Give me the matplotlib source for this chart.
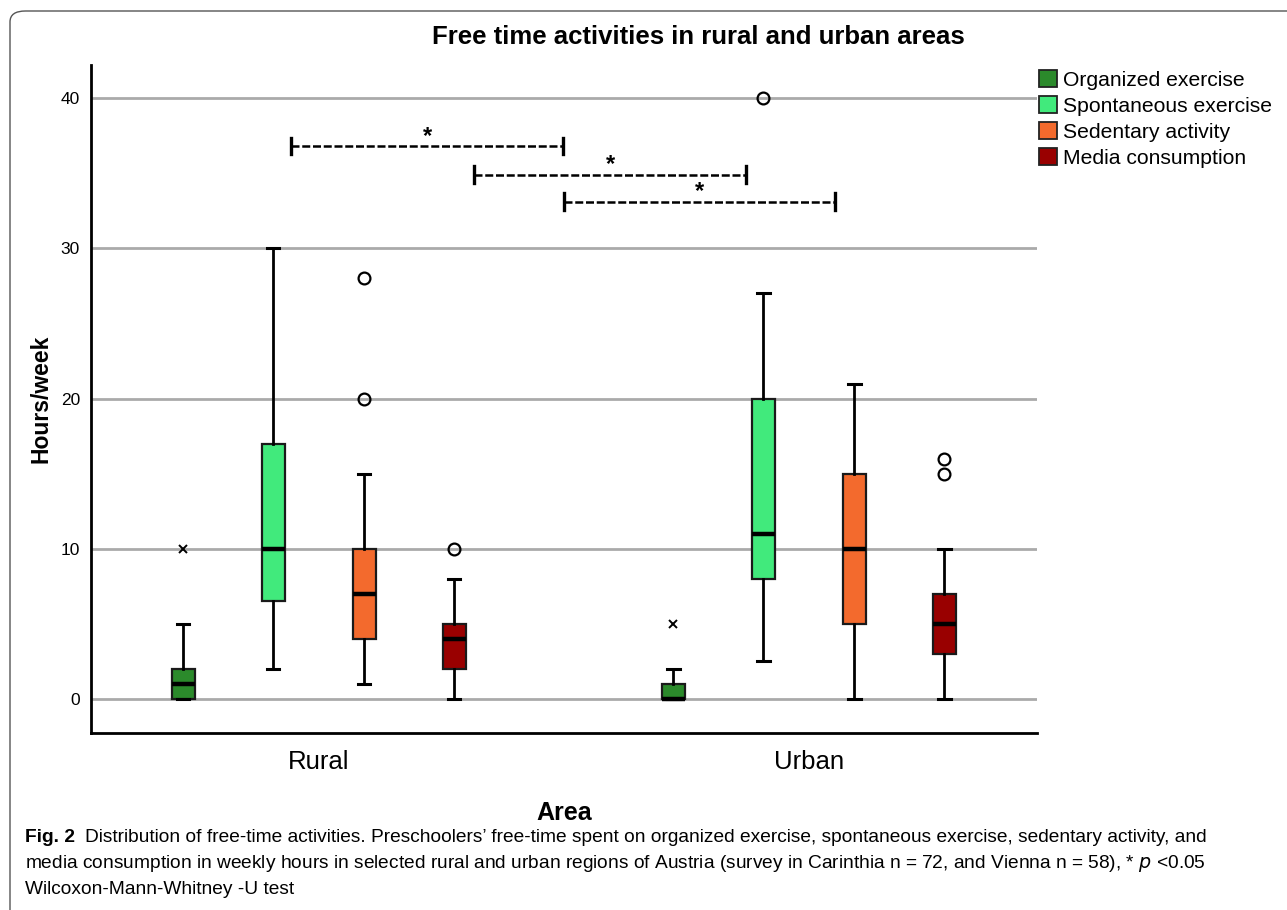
import matplotlib
matplotlib.use("Agg")
from matplotlib import pyplot as plt
from matplotlib.patches import Patch, FancyBboxPatch

# categories and series
areas = ["Rural", "Urban"]
activities = ["Organized exercise", "Spontaneous exercise", "Sedentary activity", "Media consumption"]
colors = ["#2b8a2b", "#41ea7c", "#f36a2d", "#990000"]

# box statistics per area, in the order of activities (hours/week)
rural_whislo = [0, 2, 1, 0]
rural_q1 = [0, 6.5, 4, 2]
rural_med = [1, 10, 7, 4]
rural_q3 = [2, 17, 10, 5]
rural_whishi = [5, 30, 15, 8]
rural_outliers = [[], [], [20, 28], [10]]
rural_extremes = [[10], [], [], []]

urban_whislo = [0, 2.5, 0, 0]
urban_q1 = [0, 8, 5, 3]
urban_med = [0, 11, 10, 5]
urban_q3 = [1, 20, 15, 7]
urban_whishi = [2, 27, 21, 10]
urban_outliers = [[], [40], [], [15, 16]]
urban_extremes = [[5], [], [], []]

# significance brackets: (start, end) in area units, height in hours
sig_pairs = [(-0.056, 0.4985, 36.8), (0.317, 0.8716, 34.9), (0.5005, 1.053, 33.1)]

offsets = [-0.2763, -0.0928, 0.0928, 0.2763]

plt.rcParams['font.family'] = ['Liberation Sans', 'DejaVu Sans']

fig = plt.figure(figsize=(12.87, 9.10), dpi=100)
ax = fig.add_axes([91 / 1287, 1 - 733 / 910, (1037 - 91) / 1287, (733 - 65) / 910])

all_stats = [
    (rural_whislo, rural_q1, rural_med, rural_q3, rural_whishi, rural_outliers, rural_extremes),
    (urban_whislo, urban_q1, urban_med, urban_q3, urban_whishi, urban_outliers, urban_extremes),
]

for gi, (wlo, q1, med, q3, whi, outl, extr) in enumerate(all_stats):
    for i in range(len(activities)):
        pos = gi + offsets[i]
        st = [dict(whislo=wlo[i], q1=q1[i], med=med[i], q3=q3[i], whishi=whi[i], fliers=outl[i])]
        ax.bxp(st, positions=[pos], widths=0.047, patch_artist=True, showfliers=True,
               capwidths=0.025,
               boxprops=dict(facecolor=colors[i], edgecolor="#1a1a1a", linewidth=1.6),
               medianprops=dict(color="black", linewidth=3.2, solid_capstyle="butt"),
               whiskerprops=dict(color="black", linewidth=2),
               capprops=dict(color="black", linewidth=2.2),
               flierprops=dict(marker="o", markersize=8.5, markerfacecolor="none",
                               markeredgecolor="black", markeredgewidth=1.6),
               manage_ticks=False, zorder=3)
        if extr[i]:
            ax.plot([pos] * len(extr[i]), extr[i], linestyle="none", marker="x",
                    markersize=6, markeredgewidth=1.4, color="black", zorder=4)

for y0, y1, h in sig_pairs:
    ax.plot([y0, y1], [h, h], color="black", linewidth=1.8, linestyle=(0, (3.2, 1.1)), zorder=4)
    for xe in (y0, y1):
        ax.plot([xe, xe], [h - 0.55, h + 0.55], color="black", linewidth=2.4, zorder=4)
    ax.text((y0 + y1) / 2, h - 0.1, "*", ha="center", va="bottom", fontsize=17, fontweight="bold")

ax.set_xlim(-0.464, 1.465)
ax.set_ylim(-2.26, 42.2)
ax.set_yticks([0, 10, 20, 30, 40])
ax.set_xticks([0, 1])
ax.set_xticklabels(areas, fontsize=18.5)
ax.tick_params(axis="y", length=0, labelsize=12.5, pad=8)
ax.tick_params(axis="x", length=0, pad=12)
ax.yaxis.grid(True, color="#aaaaaa", linewidth=2)
ax.set_axisbelow(True)
for s in ["top", "right"]:
    ax.spines[s].set_visible(False)
for s in ["left", "bottom"]:
    ax.spines[s].set_linewidth(2)
ax.set_ylabel("Hours/week", fontsize=16.5, fontweight="bold", labelpad=6)
ax.set_xlabel("Area", fontsize=18, fontweight="bold", labelpad=20)

fig.text(698 / 1287, 1 - 37 / 910, "Free time activities in rural and urban areas",
         ha="center", va="center", fontsize=18.5, fontweight="bold")

handles = [Patch(facecolor=c, edgecolor="#222222", linewidth=1.3) for c in colors]
fig.legend(handles, activities, loc="upper left", bbox_to_anchor=(1039 / 1287, 1 - 70 / 910),
           frameon=False, fontsize=15.2, handlelength=0.85, handleheight=0.85,
           handletextpad=0.3, labelspacing=0.3, borderaxespad=0, borderpad=0)

# caption
cap_font = ['Liberation Sans', 'DejaVu Sans']
fig.text(25 / 1287, 1 - 837 / 910, "Fig. 2", fontsize=13.8, fontweight="bold",
         family=cap_font, va="center", ha="left")
fig.text(85 / 1287, 1 - 837 / 910,
         "Distribution of free-time activities. Preschoolers\u2019 free-time spent on organized exercise, "
         "spontaneous exercise, sedentary activity, and",
         fontsize=13.8, family=cap_font, va="center", ha="left")
fig.text(25 / 1287, 1 - 863 / 910,
         "media consumption in weekly hours in selected rural and urban regions of Austria "
         "(survey in Carinthia n = 72, and Vienna n = 58), * $\\it{p}$ <0.05",
         fontsize=13.8, family=cap_font, va="center", ha="left")
fig.text(25 / 1287, 1 - 889 / 910, "Wilcoxon-Mann-Whitney -U test",
         fontsize=13.8, family=cap_font, va="center", ha="left")

# rounded frame
frame = FancyBboxPatch((10 / 1287, -0.05), 1.2, 1 - 11 / 910 + 0.05,
                       boxstyle="round,pad=0,rounding_size=0.012",
                       transform=fig.transFigure, facecolor="none",
                       edgecolor="#555555", linewidth=1.0, clip_on=False)
fig.patches.append(frame)

fig.savefig("out.png", dpi=100)
